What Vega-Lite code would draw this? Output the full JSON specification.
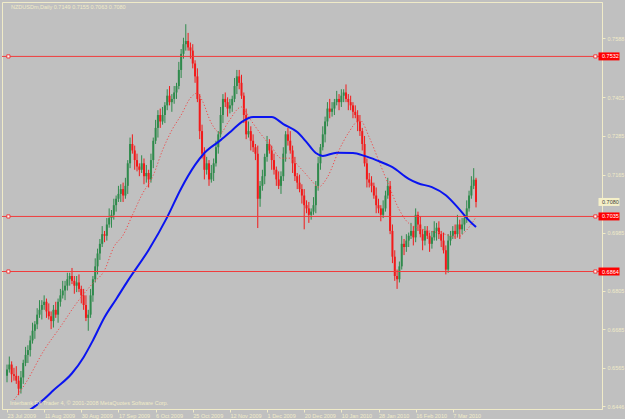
{
"$schema": "https://vega.github.io/schema/vega-lite/v6.json",
"width": 600, "height": 407,
"autosize": {"type": "none"},
"padding": {"left": 2, "top": 2, "right": 23, "bottom": 10},
"background": "#C0C0C0",
"config": {
 "view": {"stroke": "#F0EBC8", "strokeWidth": 1},
 "axis": {"domainColor": "#F0EBC8", "tickColor": "#F0EBC8", "labelColor": "#F0EBC8", "labelFont": "Liberation Sans", "labelFontSize": 5.5, "grid": false, "tickSize": 3, "labelOverlap": false, "labelBound": false, "labelFlush": false}
},
"datasets": {
"bars": [
{"i":0,"o":0.654,"h":0.6575,"l":0.652,"c":0.656},
{"i":1,"o":0.656,"h":0.66,"l":0.655,"c":0.6575},
{"i":2,"o":0.6575,"h":0.6585,"l":0.652,"c":0.6545},
{"i":3,"o":0.6545,"h":0.6565,"l":0.6525,"c":0.654},
{"i":4,"o":0.654,"h":0.657,"l":0.6515,"c":0.6525},
{"i":5,"o":0.6525,"h":0.654,"l":0.648,"c":0.65},
{"i":6,"o":0.65,"h":0.6555,"l":0.6485,"c":0.6535},
{"i":7,"o":0.6535,"h":0.659,"l":0.6515,"c":0.658},
{"i":8,"o":0.658,"h":0.663,"l":0.657,"c":0.6605},
{"i":9,"o":0.6605,"h":0.6635,"l":0.658,"c":0.662},
{"i":10,"o":0.662,"h":0.6665,"l":0.66,"c":0.665},
{"i":11,"o":0.665,"h":0.6705,"l":0.664,"c":0.668},
{"i":12,"o":0.668,"h":0.671,"l":0.6655,"c":0.67},
{"i":13,"o":0.67,"h":0.675,"l":0.6685,"c":0.673},
{"i":14,"o":0.673,"h":0.6775,"l":0.672,"c":0.6745},
{"i":15,"o":0.6745,"h":0.6775,"l":0.6715,"c":0.676},
{"i":16,"o":0.676,"h":0.679,"l":0.6745,"c":0.677},
{"i":17,"o":0.677,"h":0.678,"l":0.672,"c":0.674},
{"i":18,"o":0.674,"h":0.6765,"l":0.6715,"c":0.6725},
{"i":19,"o":0.6725,"h":0.674,"l":0.6685,"c":0.671},
{"i":20,"o":0.671,"h":0.676,"l":0.669,"c":0.6745},
{"i":21,"o":0.6745,"h":0.677,"l":0.672,"c":0.673},
{"i":22,"o":0.673,"h":0.678,"l":0.6705,"c":0.677},
{"i":23,"o":0.677,"h":0.681,"l":0.6755,"c":0.679},
{"i":24,"o":0.679,"h":0.6835,"l":0.678,"c":0.6805},
{"i":25,"o":0.6805,"h":0.6835,"l":0.6775,"c":0.682},
{"i":26,"o":0.682,"h":0.686,"l":0.6805,"c":0.684},
{"i":27,"o":0.684,"h":0.686,"l":0.682,"c":0.685},
{"i":28,"o":0.685,"h":0.6875,"l":0.6825,"c":0.6835},
{"i":29,"o":0.6835,"h":0.685,"l":0.6795,"c":0.682},
{"i":30,"o":0.682,"h":0.685,"l":0.68,"c":0.683},
{"i":31,"o":0.683,"h":0.6855,"l":0.68,"c":0.681},
{"i":32,"o":0.681,"h":0.682,"l":0.6765,"c":0.679},
{"i":33,"o":0.679,"h":0.681,"l":0.6745,"c":0.676},
{"i":34,"o":0.676,"h":0.679,"l":0.671,"c":0.672},
{"i":35,"o":0.672,"h":0.6745,"l":0.668,"c":0.673},
{"i":36,"o":0.673,"h":0.681,"l":0.672,"c":0.679},
{"i":37,"o":0.679,"h":0.685,"l":0.677,"c":0.684},
{"i":38,"o":0.684,"h":0.6905,"l":0.683,"c":0.688},
{"i":39,"o":0.688,"h":0.6935,"l":0.6855,"c":0.692},
{"i":40,"o":0.692,"h":0.6965,"l":0.69,"c":0.695},
{"i":41,"o":0.695,"h":0.7005,"l":0.694,"c":0.698},
{"i":42,"o":0.698,"h":0.699,"l":0.6955,"c":0.6975},
{"i":43,"o":0.6975,"h":0.703,"l":0.696,"c":0.701},
{"i":44,"o":0.701,"h":0.706,"l":0.7,"c":0.703},
{"i":45,"o":0.703,"h":0.7055,"l":0.7,"c":0.704},
{"i":46,"o":0.704,"h":0.709,"l":0.7025,"c":0.707},
{"i":47,"o":0.707,"h":0.71,"l":0.705,"c":0.709},
{"i":48,"o":0.709,"h":0.713,"l":0.708,"c":0.7105},
{"i":49,"o":0.7105,"h":0.7135,"l":0.708,"c":0.712},
{"i":50,"o":0.712,"h":0.714,"l":0.708,"c":0.71},
{"i":51,"o":0.71,"h":0.7155,"l":0.709,"c":0.713},
{"i":52,"o":0.713,"h":0.721,"l":0.7105,"c":0.72},
{"i":53,"o":0.72,"h":0.728,"l":0.7185,"c":0.726},
{"i":54,"o":0.726,"h":0.729,"l":0.723,"c":0.724},
{"i":55,"o":0.724,"h":0.7255,"l":0.718,"c":0.721},
{"i":56,"o":0.721,"h":0.723,"l":0.7175,"c":0.719},
{"i":57,"o":0.719,"h":0.72,"l":0.716,"c":0.718},
{"i":58,"o":0.718,"h":0.7225,"l":0.717,"c":0.72},
{"i":59,"o":0.72,"h":0.7215,"l":0.7135,"c":0.716},
{"i":60,"o":0.716,"h":0.7195,"l":0.714,"c":0.717},
{"i":61,"o":0.717,"h":0.718,"l":0.7125,"c":0.715},
{"i":62,"o":0.715,"h":0.723,"l":0.714,"c":0.721},
{"i":63,"o":0.721,"h":0.728,"l":0.7185,"c":0.727},
{"i":64,"o":0.727,"h":0.7335,"l":0.726,"c":0.731},
{"i":65,"o":0.731,"h":0.7365,"l":0.728,"c":0.735},
{"i":66,"o":0.735,"h":0.737,"l":0.731,"c":0.733},
{"i":67,"o":0.733,"h":0.7375,"l":0.732,"c":0.735},
{"i":68,"o":0.735,"h":0.739,"l":0.7325,"c":0.738},
{"i":69,"o":0.738,"h":0.743,"l":0.7365,"c":0.741},
{"i":70,"o":0.741,"h":0.744,"l":0.738,"c":0.739},
{"i":71,"o":0.739,"h":0.7415,"l":0.736,"c":0.74},
{"i":72,"o":0.74,"h":0.744,"l":0.7385,"c":0.742},
{"i":73,"o":0.742,"h":0.745,"l":0.74,"c":0.744},
{"i":74,"o":0.744,"h":0.7515,"l":0.743,"c":0.749},
{"i":75,"o":0.749,"h":0.7555,"l":0.7465,"c":0.754},
{"i":76,"o":0.754,"h":0.759,"l":0.7525,"c":0.757},
{"i":77,"o":0.757,"h":0.7632,"l":0.755,"c":0.758},
{"i":78,"o":0.758,"h":0.7605,"l":0.755,"c":0.756},
{"i":79,"o":0.756,"h":0.7575,"l":0.7525,"c":0.755},
{"i":80,"o":0.755,"h":0.757,"l":0.7495,"c":0.751},
{"i":81,"o":0.751,"h":0.752,"l":0.745,"c":0.747},
{"i":82,"o":0.747,"h":0.7495,"l":0.739,"c":0.74},
{"i":83,"o":0.74,"h":0.7415,"l":0.7275,"c":0.73},
{"i":84,"o":0.73,"h":0.732,"l":0.7215,"c":0.723},
{"i":85,"o":0.723,"h":0.725,"l":0.715,"c":0.718},
{"i":86,"o":0.718,"h":0.722,"l":0.7165,"c":0.72},
{"i":87,"o":0.72,"h":0.721,"l":0.713,"c":0.715},
{"i":88,"o":0.715,"h":0.7195,"l":0.714,"c":0.717},
{"i":89,"o":0.717,"h":0.7215,"l":0.7145,"c":0.72},
{"i":90,"o":0.72,"h":0.727,"l":0.719,"c":0.725},
{"i":91,"o":0.725,"h":0.73,"l":0.723,"c":0.729},
{"i":92,"o":0.729,"h":0.7375,"l":0.728,"c":0.735},
{"i":93,"o":0.735,"h":0.7415,"l":0.7325,"c":0.74},
{"i":94,"o":0.74,"h":0.742,"l":0.7375,"c":0.739},
{"i":95,"o":0.739,"h":0.7405,"l":0.7345,"c":0.737},
{"i":96,"o":0.737,"h":0.74,"l":0.7355,"c":0.738},
{"i":97,"o":0.738,"h":0.741,"l":0.736,"c":0.74},
{"i":98,"o":0.74,"h":0.7465,"l":0.739,"c":0.744},
{"i":99,"o":0.744,"h":0.749,"l":0.7415,"c":0.747},
{"i":100,"o":0.747,"h":0.749,"l":0.743,"c":0.745},
{"i":101,"o":0.745,"h":0.7475,"l":0.74,"c":0.741},
{"i":102,"o":0.741,"h":0.742,"l":0.7325,"c":0.735},
{"i":103,"o":0.735,"h":0.737,"l":0.7275,"c":0.729},
{"i":104,"o":0.729,"h":0.733,"l":0.728,"c":0.73},
{"i":105,"o":0.73,"h":0.7315,"l":0.724,"c":0.727},
{"i":106,"o":0.727,"h":0.729,"l":0.7235,"c":0.725},
{"i":107,"o":0.725,"h":0.726,"l":0.721,"c":0.723},
{"i":108,"o":0.723,"h":0.7255,"l":0.6999,"c":0.709},
{"i":109,"o":0.709,"h":0.7145,"l":0.7065,"c":0.713},
{"i":110,"o":0.713,"h":0.718,"l":0.7115,"c":0.716},
{"i":111,"o":0.716,"h":0.723,"l":0.7135,"c":0.722},
{"i":112,"o":0.722,"h":0.7285,"l":0.7205,"c":0.726},
{"i":113,"o":0.726,"h":0.7275,"l":0.723,"c":0.724},
{"i":114,"o":0.724,"h":0.7255,"l":0.718,"c":0.721},
{"i":115,"o":0.721,"h":0.723,"l":0.7165,"c":0.718},
{"i":116,"o":0.718,"h":0.719,"l":0.713,"c":0.715},
{"i":117,"o":0.715,"h":0.7175,"l":0.712,"c":0.713},
{"i":118,"o":0.713,"h":0.7175,"l":0.7105,"c":0.716},
{"i":119,"o":0.716,"h":0.725,"l":0.7145,"c":0.723},
{"i":120,"o":0.723,"h":0.73,"l":0.7205,"c":0.729},
{"i":121,"o":0.729,"h":0.731,"l":0.7255,"c":0.727},
{"i":122,"o":0.727,"h":0.73,"l":0.723,"c":0.724},
{"i":123,"o":0.724,"h":0.7255,"l":0.717,"c":0.72},
{"i":124,"o":0.72,"h":0.722,"l":0.7145,"c":0.716},
{"i":125,"o":0.716,"h":0.717,"l":0.712,"c":0.714},
{"i":126,"o":0.714,"h":0.7165,"l":0.711,"c":0.712},
{"i":127,"o":0.712,"h":0.7135,"l":0.7075,"c":0.71},
{"i":128,"o":0.71,"h":0.712,"l":0.6995,"c":0.707},
{"i":129,"o":0.707,"h":0.7085,"l":0.7045,"c":0.706},
{"i":130,"o":0.706,"h":0.708,"l":0.7015,"c":0.704},
{"i":131,"o":0.704,"h":0.706,"l":0.7025,"c":0.705},
{"i":132,"o":0.705,"h":0.7095,"l":0.704,"c":0.707},
{"i":133,"o":0.707,"h":0.7145,"l":0.7045,"c":0.713},
{"i":134,"o":0.713,"h":0.722,"l":0.7115,"c":0.72},
{"i":135,"o":0.72,"h":0.726,"l":0.718,"c":0.725},
{"i":136,"o":0.725,"h":0.7315,"l":0.724,"c":0.729},
{"i":137,"o":0.729,"h":0.7345,"l":0.7265,"c":0.733},
{"i":138,"o":0.733,"h":0.739,"l":0.7315,"c":0.737},
{"i":139,"o":0.737,"h":0.74,"l":0.734,"c":0.736},
{"i":140,"o":0.736,"h":0.739,"l":0.7345,"c":0.737},
{"i":141,"o":0.737,"h":0.74,"l":0.735,"c":0.739},
{"i":142,"o":0.739,"h":0.7425,"l":0.738,"c":0.74},
{"i":143,"o":0.74,"h":0.7415,"l":0.7365,"c":0.739},
{"i":144,"o":0.739,"h":0.743,"l":0.7375,"c":0.741},
{"i":145,"o":0.741,"h":0.743,"l":0.739,"c":0.742},
{"i":146,"o":0.742,"h":0.7445,"l":0.739,"c":0.74},
{"i":147,"o":0.74,"h":0.7415,"l":0.7365,"c":0.739},
{"i":148,"o":0.739,"h":0.741,"l":0.7365,"c":0.738},
{"i":149,"o":0.738,"h":0.739,"l":0.734,"c":0.736},
{"i":150,"o":0.736,"h":0.738,"l":0.734,"c":0.735},
{"i":151,"o":0.735,"h":0.7365,"l":0.73,"c":0.733},
{"i":152,"o":0.733,"h":0.735,"l":0.7285,"c":0.73},
{"i":153,"o":0.73,"h":0.731,"l":0.724,"c":0.726},
{"i":154,"o":0.726,"h":0.7285,"l":0.719,"c":0.72},
{"i":155,"o":0.72,"h":0.7215,"l":0.7125,"c":0.715},
{"i":156,"o":0.715,"h":0.717,"l":0.7125,"c":0.714},
{"i":157,"o":0.714,"h":0.716,"l":0.711,"c":0.713},
{"i":158,"o":0.713,"h":0.714,"l":0.709,"c":0.71},
{"i":159,"o":0.71,"h":0.7125,"l":0.7045,"c":0.707},
{"i":160,"o":0.707,"h":0.709,"l":0.7045,"c":0.706},
{"i":161,"o":0.706,"h":0.707,"l":0.702,"c":0.704},
{"i":162,"o":0.704,"h":0.7085,"l":0.703,"c":0.706},
{"i":163,"o":0.706,"h":0.7115,"l":0.705,"c":0.71},
{"i":164,"o":0.71,"h":0.7155,"l":0.709,"c":0.713},
{"i":165,"o":0.713,"h":0.7145,"l":0.698,"c":0.699},
{"i":166,"o":0.699,"h":0.701,"l":0.689,"c":0.691},
{"i":167,"o":0.691,"h":0.693,"l":0.6835,"c":0.685},
{"i":168,"o":0.685,"h":0.687,"l":0.681,"c":0.684},
{"i":169,"o":0.684,"h":0.6895,"l":0.683,"c":0.688},
{"i":170,"o":0.688,"h":0.6975,"l":0.687,"c":0.695},
{"i":171,"o":0.695,"h":0.6965,"l":0.6915,"c":0.694},
{"i":172,"o":0.694,"h":0.698,"l":0.6925,"c":0.696},
{"i":173,"o":0.696,"h":0.6985,"l":0.694,"c":0.6975},
{"i":174,"o":0.6975,"h":0.7015,"l":0.6965,"c":0.699},
{"i":175,"o":0.699,"h":0.7005,"l":0.6945,"c":0.697},
{"i":176,"o":0.697,"h":0.706,"l":0.6955,"c":0.704},
{"i":177,"o":0.704,"h":0.705,"l":0.699,"c":0.701},
{"i":178,"o":0.701,"h":0.7035,"l":0.697,"c":0.698},
{"i":179,"o":0.698,"h":0.6995,"l":0.693,"c":0.696},
{"i":180,"o":0.696,"h":0.7005,"l":0.6945,"c":0.699},
{"i":181,"o":0.699,"h":0.7005,"l":0.6965,"c":0.6975},
{"i":182,"o":0.6975,"h":0.6985,"l":0.6925,"c":0.695},
{"i":183,"o":0.695,"h":0.699,"l":0.6935,"c":0.697},
{"i":184,"o":0.697,"h":0.702,"l":0.696,"c":0.699},
{"i":185,"o":0.699,"h":0.7015,"l":0.696,"c":0.7},
{"i":186,"o":0.7,"h":0.702,"l":0.6965,"c":0.698},
{"i":187,"o":0.698,"h":0.699,"l":0.694,"c":0.696},
{"i":188,"o":0.696,"h":0.6985,"l":0.692,"c":0.693},
{"i":189,"o":0.693,"h":0.6945,"l":0.6855,"c":0.687},
{"i":190,"o":0.687,"h":0.698,"l":0.686,"c":0.696},
{"i":191,"o":0.696,"h":0.699,"l":0.6945,"c":0.6975},
{"i":192,"o":0.6975,"h":0.7005,"l":0.6965,"c":0.699},
{"i":193,"o":0.699,"h":0.701,"l":0.6965,"c":0.698},
{"i":194,"o":0.698,"h":0.704,"l":0.697,"c":0.701},
{"i":195,"o":0.701,"h":0.7025,"l":0.6965,"c":0.6995},
{"i":196,"o":0.6995,"h":0.703,"l":0.698,"c":0.701},
{"i":197,"o":0.701,"h":0.704,"l":0.699,"c":0.703},
{"i":198,"o":0.703,"h":0.7085,"l":0.7015,"c":0.706},
{"i":199,"o":0.706,"h":0.7115,"l":0.705,"c":0.71},
{"i":200,"o":0.71,"h":0.716,"l":0.709,"c":0.713},
{"i":201,"o":0.713,"h":0.7185,"l":0.712,"c":0.7149},
{"i":202,"o":0.7149,"h":0.7155,"l":0.7063,"c":0.708}
],
"blue": [
{"i":8,"v":0.6425},{"i":12,"v":0.6445},{"i":16,"v":0.6468},{"i":20,"v":0.6495},{"i":28,"v":0.6548},{"i":33,"v":0.6598},{"i":37,"v":0.665},{"i":42,"v":0.6722},{"i":47,"v":0.6778},{"i":52,"v":0.6835},{"i":61,"v":0.6931},{"i":69,"v":0.7033},{"i":75,"v":0.7122},{"i":81,"v":0.7195},{"i":85,"v":0.7232},{"i":92,"v":0.7272},{"i":97,"v":0.7303},{"i":101,"v":0.7328},{"i":106,"v":0.7344},{"i":114,"v":0.7344},{"i":119,"v":0.7322},{"i":125,"v":0.7297},{"i":129,"v":0.7266},{"i":133,"v":0.7232},{"i":136,"v":0.7223},{"i":142,"v":0.7233},{"i":149,"v":0.7232},{"i":154,"v":0.7223},{"i":159,"v":0.721},{"i":166,"v":0.7188},{"i":173,"v":0.7152},{"i":177,"v":0.7138},{"i":183,"v":0.7126},{"i":189,"v":0.7101},{"i":194,"v":0.7064},{"i":198,"v":0.703},{"i":202,"v":0.7002}
],
"red": [
{"i":3,"v":0.6465},{"i":8,"v":0.6517},{"i":16,"v":0.662},{"i":23,"v":0.6692},{"i":30,"v":0.6766},{"i":37,"v":0.6828},{"i":42,"v":0.6868},{"i":46,"v":0.694},{"i":50,"v":0.6977},{"i":54,"v":0.7039},{"i":58,"v":0.7101},{"i":63,"v":0.7163},{"i":67,"v":0.7241},{"i":71,"v":0.7303},{"i":75,"v":0.735},{"i":79,"v":0.7403},{"i":82,"v":0.7418},{"i":84,"v":0.7396},{"i":88,"v":0.7325},{"i":92,"v":0.7294},{"i":95,"v":0.7325},{"i":101,"v":0.7375},{"i":105,"v":0.7334},{"i":109,"v":0.7294},{"i":114,"v":0.725},{"i":118,"v":0.7216},{"i":122,"v":0.7216},{"i":126,"v":0.7188},{"i":131,"v":0.7148},{"i":134,"v":0.7126},{"i":138,"v":0.7157},{"i":143,"v":0.7241},{"i":147,"v":0.7294},{"i":152,"v":0.7334},{"i":156,"v":0.7281},{"i":160,"v":0.721},{"i":164,"v":0.7139},{"i":169,"v":0.7055},{"i":173,"v":0.7014},{"i":180,"v":0.6993},{"i":187,"v":0.6983},{"i":194,"v":0.6971},{"i":198,"v":0.6993},{"i":202,"v":0.7033}
],
"levels": [{"p":0.7532,"t":"0.7532"},{"p":0.7035,"t":"0.7035"},{"p":0.6864,"t":"0.6864"}],
"current": [{"p":0.708,"t":"0.7080"}],
"toptext": [{"t":"NZDUSDm,Daily  0.7149 0.7155 0.7063 0.7080","x":0,"y":0.7701}],
"bottext": [{"t":"Interbank FX Trader 4, \u00a9 2001-2008 MetaQuotes Software Corp.","x":0,"y":0.6437}]
},
"layer": [
 {"data": {"name": "bars"}, "mark": {"type": "rule", "strokeWidth": 1, "clip": true},
  "encoding": {
   "x": {"field": "i", "type": "quantitative", "title": null, "scale": {"domain": [0, 254.1], "nice": false, "zero": false},
     "axis": {"orient": "bottom", "values": [0,16,32,48,64,80,96,112,128,144,160,176,192], "labelAlign": "left", "labelPadding": 1, "labelBaseline": "top",
       "labelExpr": "['23 Jul 2009','11 Aug 2009','30 Aug 2009','17 Sep 2009','6 Oct 2009','25 Oct 2009','12 Nov 2009','1 Dec 2009','20 Dec 2009','10 Jan 2010','28 Jan 2010','16 Feb 2010','7 Mar 2010'][round(datum.value/16)]"}},
   "y": {"field": "l", "type": "quantitative", "title": null, "scale": {"domain": [0.6437, 0.7701], "nice": false, "zero": false},
     "axis": {"orient": "right", "values": [0.7648,0.7588,0.7465,0.7405,0.7345,0.7285,0.7225,0.7165,0.7105,0.6985,0.6925,0.6805,0.6745,0.6685,0.6625,0.6565,0.6505,0.6446], "format": ".4f", "labelPadding": 2, "labelAlign": "left", "labelBaseline": "middle"}},
   "y2": {"field": "h"},
   "color": {"condition": {"test": "datum.c >= datum.o", "value": "#2F8A4C"}, "value": "#F21A1A"}
  }},
 {"data": {"name": "bars"}, "mark": {"type": "bar", "width": 2, "clip": true},
  "encoding": {
   "x": {"field": "i", "type": "quantitative", "title": null},
   "y": {"field": "o", "type": "quantitative", "title": null},
   "y2": {"field": "c"},
   "color": {"condition": {"test": "datum.c >= datum.o", "value": "#2F8A4C"}, "value": "#F21A1A"}
  }},
 {"data": {"name": "red"}, "mark": {"type": "line", "color": "#F04A4A", "strokeWidth": 1, "strokeDash": [1.2, 2], "clip": true, "interpolate": "monotone"},
  "encoding": {"x": {"field": "i", "type": "quantitative", "title": null}, "y": {"field": "v", "type": "quantitative", "title": null}}},
 {"data": {"name": "blue"}, "mark": {"type": "line", "color": "#0A14F0", "strokeWidth": 2, "clip": true, "interpolate": "monotone"},
  "encoding": {"x": {"field": "i", "type": "quantitative", "title": null}, "y": {"field": "v", "type": "quantitative", "title": null}}},
 {"data": {"name": "levels"}, "mark": {"type": "rule", "color": "#F03C3C", "strokeWidth": 1},
  "encoding": {"y": {"field": "p", "type": "quantitative", "title": null}}},
 {"data": {"name": "levels"}, "mark": {"type": "point", "shape": "square", "size": 10, "filled": true, "fill": "#FFFFFF", "stroke": "#F03C3C", "strokeWidth": 1, "opacity": 1},
  "encoding": {"x": {"datum": 0.6, "type": "quantitative"}, "y": {"field": "p", "type": "quantitative", "title": null}}},
 {"data": {"name": "levels"}, "mark": {"type": "point", "shape": "square", "size": 10, "filled": true, "fill": "#FFFFFF", "stroke": "#F03C3C", "strokeWidth": 1, "opacity": 1},
  "encoding": {"x": {"datum": 253.4, "type": "quantitative"}, "y": {"field": "p", "type": "quantitative", "title": null}}},
 {"data": {"name": "levels"}, "mark": {"type": "point", "shape": "M-1,-0.38L1,-0.38L1,0.38L-1,0.38Z", "size": 441, "filled": true, "color": "#FF0000", "opacity": 1, "xOffset": 12},
  "encoding": {"x": {"datum": 254.1, "type": "quantitative"}, "y": {"field": "p", "type": "quantitative", "title": null}}},
 {"data": {"name": "levels"}, "mark": {"type": "text", "color": "#FFFFFF", "font": "Liberation Sans", "fontSize": 5.5, "align": "left", "baseline": "middle", "dx": 5},
  "encoding": {"x": {"datum": 254.1, "type": "quantitative"}, "y": {"field": "p", "type": "quantitative", "title": null}, "text": {"field": "t"}}},
 {"data": {"name": "current"}, "mark": {"type": "point", "shape": "M-1,-0.38L1,-0.38L1,0.38L-1,0.38Z", "size": 441, "filled": true, "color": "#F5F0C8", "opacity": 1, "xOffset": 12},
  "encoding": {"x": {"datum": 254.1, "type": "quantitative"}, "y": {"field": "p", "type": "quantitative", "title": null}}},
 {"data": {"name": "current"}, "mark": {"type": "text", "color": "#404040", "font": "Liberation Sans", "fontSize": 5.5, "align": "left", "baseline": "middle", "dx": 5},
  "encoding": {"x": {"datum": 254.1, "type": "quantitative"}, "y": {"field": "p", "type": "quantitative", "title": null}, "text": {"field": "t"}}},
 {"data": {"name": "toptext"}, "mark": {"type": "text", "color": "#F0EBC8", "font": "Liberation Sans", "fontSize": 5.5, "align": "left", "baseline": "top", "dx": 4, "dy": 3},
  "encoding": {"x": {"field": "x", "type": "quantitative", "title": null}, "y": {"field": "y", "type": "quantitative", "title": null}, "text": {"field": "t"}}},
 {"data": {"name": "bottext"}, "mark": {"type": "text", "color": "#F0EBC8", "font": "Liberation Sans", "fontSize": 5.5, "align": "left", "baseline": "bottom", "dx": 3, "dy": -3},
  "encoding": {"x": {"field": "x", "type": "quantitative", "title": null}, "y": {"field": "y", "type": "quantitative", "title": null}, "text": {"field": "t"}}}
]
}
